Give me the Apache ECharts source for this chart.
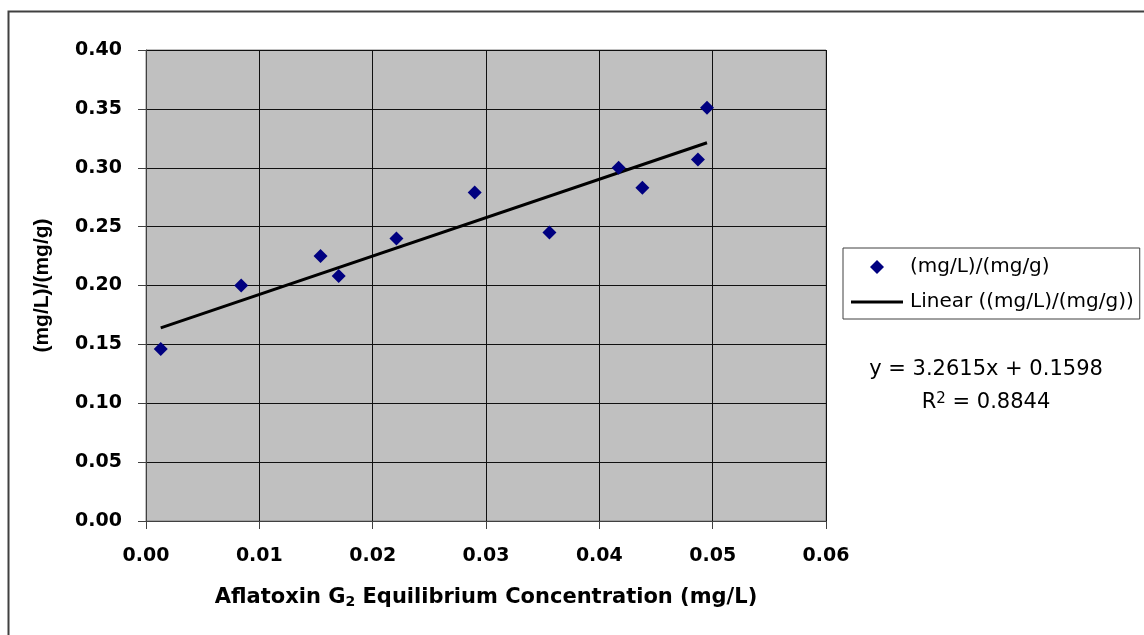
<!DOCTYPE html>
<html>
<head>
<meta charset="utf-8">
<script src="https://cdn.jsdelivr.net/npm/echarts@6/dist/echarts.min.js"></script>
<style>
  html, body { margin: 0; padding: 0; background: #fff; }
  #chart { width: 1144px; height: 635px; }
</style>
</head>
<body>
<div id="chart"></div>
<script>
// ---- data ----
const xValues = [0.0013, 0.0084, 0.0154, 0.0170, 0.0221, 0.0290, 0.0356, 0.0417, 0.0438, 0.0487, 0.0495];
const yValues = [0.146, 0.200, 0.225, 0.208, 0.240, 0.279, 0.245, 0.300, 0.283, 0.307, 0.351];
const trendSlope = [3.2615];
const trendIntercept = [0.1598];
const rSquared = [0.8844];
const seriesName = '(mg/L)/(mg/g)';
const trendName = 'Linear ((mg/L)/(mg/g))';
const xTitle = ['Aflatoxin G', '2', ' Equilibrium Concentration (mg/L)'];
const yTitle = '(mg/L)/(mg/g)';

const points = xValues.map((x, i) => [x, yValues[i]]);
const xMin = Math.min(...xValues), xMax = Math.max(...xValues);
const trendPoints = [xMin, xMax].map(x => [x, trendSlope[0] * x + trendIntercept[0]]);

const chart = echarts.init(document.getElementById('chart'), null, { renderer: 'canvas' });
const tickFont = { fontFamily: 'DejaVu Sans', fontWeight: 'bold', fontSize: 19, color: '#000' };

chart.setOption({
  animation: false,
  backgroundColor: '#fff',
  grid: {
    left: 146, top: 50, width: 680, height: 471,
    show: true, backgroundColor: '#C0C0C0', borderColor: '#808080', borderWidth: 1
  },
  xAxis: {
    type: 'value', min: 0, max: 0.06, interval: 0.01,
    axisLine: { show: true, onZero: false, lineStyle: { color: '#404040', width: 1 } },
    axisTick: { show: true, length: 8, lineStyle: { color: '#404040' } },
    axisLabel: Object.assign({ margin: 26, formatter: v => v.toFixed(2) }, tickFont),
    splitLine: { show: true, lineStyle: { color: '#101010', width: 1 } },
    name: '{b|' + xTitle[0] + '}{sub|' + xTitle[1] + '}{b|' + xTitle[2] + '}',
    nameLocation: 'middle', nameGap: 65,
    nameTextStyle: {
      fontFamily: 'DejaVu Sans', fontWeight: 'bold', fontSize: 21, color: '#000',
      rich: {
        b: { fontFamily: 'DejaVu Sans', fontWeight: 'bold', fontSize: 21, color: '#000' },
        sub: { fontFamily: 'DejaVu Sans', fontWeight: 'bold', fontSize: 14, color: '#000', verticalAlign: 'bottom', padding: [9, 0, 0, 0] }
      }
    }
  },
  yAxis: {
    type: 'value', min: 0, max: 0.4, interval: 0.05,
    axisLine: { show: true, onZero: false, lineStyle: { color: '#404040', width: 1 } },
    axisTick: { show: true, length: 8, lineStyle: { color: '#404040' } },
    axisLabel: Object.assign({ margin: 24, formatter: v => v.toFixed(2) }, tickFont),
    splitLine: { show: true, lineStyle: { color: '#101010', width: 1 } },
    name: yTitle,
    nameLocation: 'middle', nameGap: 93, nameRotate: 90,
    nameTextStyle: { fontFamily: 'Liberation Sans', fontWeight: 'bold', fontSize: 21, color: '#000' }
  },
  legend: {
    orient: 'vertical', left: 843, top: 248,
    backgroundColor: '#fff', borderColor: '#404040', borderWidth: 1,
    padding: [9, 6, 7, 8], itemGap: 15, itemWidth: 52, itemHeight: 14,
    symbolKeepAspect: true,
    textStyle: { fontFamily: 'DejaVu Sans', fontSize: 20, color: '#000', padding: [0, 0, 0, 2] },
    data: [
      { name: seriesName, icon: 'path://M7,0 L14,7 L7,14 L0,7 Z', itemStyle: { color: '#000080', opacity: 1 } },
      { name: trendName, icon: 'path://M0,0 L52,0 L52,3 L0,3 Z', itemStyle: { color: '#000', opacity: 1 } }
    ]
  },
  series: [
    {
      name: seriesName, type: 'scatter', data: points,
      symbol: 'diamond', symbolSize: 14,
      itemStyle: { color: '#000080', opacity: 1 }, z: 3
    },
    {
      name: trendName, type: 'line', data: trendPoints,
      symbol: 'none', showSymbol: false,
      lineStyle: { color: '#000', width: 3 },
      itemStyle: { color: '#000' }, z: 2
    }
  ],
  graphic: [
    {
      type: 'rect', left: 6, top: 9, z: -10, silent: true,
      shape: { width: 1150, height: 640 },
      style: { fill: null, stroke: '#404040', lineWidth: 2 }
    },
    {
      type: 'text', x: 986, y: 370, silent: true,
      style: {
        text: 'y = ' + trendSlope[0].toFixed(4) + 'x + ' + trendIntercept[0].toFixed(4),
        font: '21px "DejaVu Sans"', fill: '#000', align: 'center', verticalAlign: 'middle'
      }
    },
    {
      type: 'text', x: 986, y: 403, silent: true,
      style: {
        text: '{a|R}{s|2}{a| = ' + rSquared[0].toFixed(4) + '}',
        align: 'center', verticalAlign: 'middle',
        rich: {
          a: { font: '21px "DejaVu Sans"', fill: '#000' },
          s: { font: '15px "DejaVu Sans"', fill: '#000', verticalAlign: 'top', padding: [0, 0, 8, 0] }
        }
      }
    }
  ]
});
</script>
</body>
</html>
